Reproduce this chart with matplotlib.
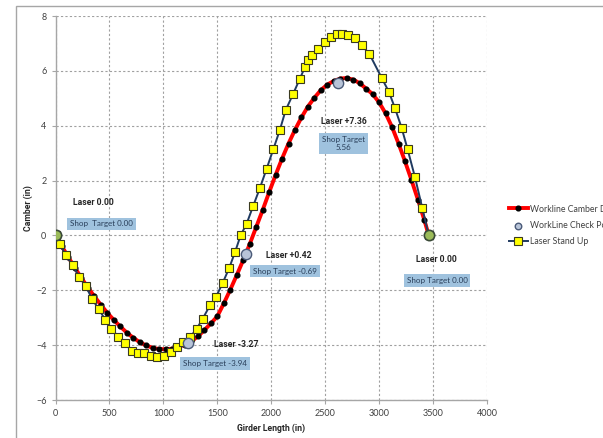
import matplotlib
matplotlib.use("Agg")
import matplotlib.pyplot as plt
from matplotlib.patches import Rectangle

plt.rcParams['font.family'] = ['Lato', 'DejaVu Sans']
BOLD = ['Roboto', 'DejaVu Sans']

# Workline camber data (girder length in, camber in)
work_x = [0, 60, 120, 180, 240, 300, 360, 420, 480, 540, 600, 660, 720, 780,
          840, 900, 960, 1020, 1080, 1140, 1200, 1260, 1320, 1380, 1440, 1500,
          1560, 1620, 1680, 1740, 1800, 1860, 1920, 1980, 2040, 2100, 2160,
          2220, 2280, 2340, 2400, 2460, 2520, 2580, 2640, 2700, 2760, 2820,
          2880, 2940, 3000, 3060, 3120, 3180, 3240, 3300, 3360, 3420, 3460]
work_y = [0.00, -0.40, -0.80, -1.18, -1.55, -1.90, -2.22, -2.53, -2.82, -3.08,
          -3.32, -3.54, -3.73, -3.89, -4.01, -4.10, -4.14, -4.15, -4.13, -4.07,
          -3.98, -3.86, -3.68, -3.45, -3.21, -2.95, -2.48, -1.98, -1.45, -0.90,
          -0.32, 0.30, 0.92, 1.57, 2.20, 2.80, 3.35, 3.85, 4.30, 4.70, 5.02,
          5.30, 5.50, 5.63, 5.72, 5.74, 5.68, 5.55, 5.35, 5.15, 4.85, 4.45,
          3.95, 3.35, 2.70, 2.02, 1.30, 0.55, 0.00]

# Workline check points
check_x = [0, 1225, 1762, 2615, 3460]
check_y = [0.00, -3.94, -0.69, 5.56, 0.00]

# Laser stand-up survey
laser_x = [0, 42, 97, 159, 221, 283, 338, 400, 462, 518, 582, 644, 706, 762,
           823, 882, 943, 1006, 1067, 1123, 1185, 1247, 1308, 1364, 1432, 1487,
           1549, 1611, 1664, 1716, 1772, 1834, 1895, 1957, 2019, 2081, 2133,
           2204, 2266, 2313, 2343, 2374, 2436, 2498, 2550, 2606, 2658, 2714,
           2776, 2838, 2908, 3023, 3091, 3146, 3208, 3264, 3332, 3400, 3460]
laser_y = [0.00, -0.33, -0.73, -1.09, -1.52, -1.86, -2.31, -2.68, -3.08, -3.41,
           -3.69, -3.93, -4.20, -4.29, -4.29, -4.38, -4.42, -4.38, -4.26, -4.08,
           -3.90, -3.71, -3.41, -3.04, -2.55, -2.25, -1.74, -1.18, -0.61, 0.00,
           0.43, 1.09, 1.73, 2.43, 3.14, 3.86, 4.56, 5.17, 5.72, 6.14, 6.39,
           6.57, 6.81, 7.05, 7.24, 7.34, 7.34, 7.30, 7.18, 6.93, 6.63, 5.75,
           5.23, 4.65, 3.93, 3.14, 2.13, 1.00, 0.00]

# Callouts: laser text, shop target text, laser label pos, target box pos
callouts = [
    ("Laser 0.00", "Shop  Target 0.00", (160, 1.20), (135, 0.42)),
    ("Laser +0.42", "Shop Target -0.69", (1955, -0.72), (1830, -1.30)),
    ("Laser -3.27", "Shop Target -3.94", (1465, -3.97), (1180, -4.66)),
    ("Laser +7.36", "Shop Target\n5.56", (2460, 4.14), (2470, 3.35)),
    ("Laser 0.00", "Shop Target 0.00", (3340, -0.87), (3255, -1.64)),
]

fig = plt.figure(figsize=(6.03, 4.38), dpi=100)
W, H = 603, 438

# chart area border
fig.patches.append(Rectangle((16 / W, -0.1), 1.2, 1 - 6 / H + 0.1,
                             transform=fig.transFigure, fill=False,
                             edgecolor='#a6a6a6', linewidth=1.0))

ax = fig.add_axes([55.5 / W, 1 - 400 / H, (487 - 55.5) / W, (400 - 16) / H])
ax.set_xlim(0, 4000)
ax.set_ylim(-6, 8)
ax.set_xticks(range(0, 4001, 500))
ax.set_yticks(range(-6, 9, 2))
ax.grid(True, color='#a0a0a0', linestyle=(0, (2, 2)), linewidth=0.8)
for s in ('top', 'right'):
    ax.spines[s].set_visible(False)
for s in ('left', 'bottom'):
    ax.spines[s].set_color('#a6a6a6')
    ax.spines[s].set_linewidth(1.0)
ax.tick_params(axis='both', labelsize=6.5, colors='#404040', length=3,
               width=0.8, direction='out')
ax.tick_params(axis='both', color='#a6a6a6')
ax.set_xlabel("Girder Length (in)", fontsize=6.2, fontweight='bold',
              family=BOLD, color='#262626')
ax.set_ylabel("Camber (in)", fontsize=6.2, fontweight='bold',
              family=BOLD, color='#262626')
ax.xaxis.set_label_coords(0.5, -0.062)
ax.yaxis.set_label_coords(-0.052, 0.5)

ax.plot(work_x, work_y, color='#ff0000', linewidth=2.8, marker='o',
        markersize=3.4, markerfacecolor='black', markeredgecolor='black',
        label='Workline Camber Data', zorder=3)
ax.plot(laser_x, laser_y, color='#1f3a60', linewidth=1.4, marker='s',
        markersize=5.5, markerfacecolor='#ffff00', markeredgecolor='#3a3a20',
        markeredgewidth=0.8, label='Laser Stand Up', zorder=4)
ax.scatter(check_x[1:-1], check_y[1:-1], s=55, facecolor='#b8c4d8',
           edgecolor='#4a5a78', linewidth=1.0, zorder=6,
           label='WorkLine Check Points')
ax.scatter([check_x[0], check_x[-1]], [check_y[0], check_y[-1]], s=55,
           facecolor='#9bbb59', edgecolor='#3a4a38', linewidth=1.2, zorder=6)

for laser_txt, shop_txt, lpos, spos in callouts:
    ax.text(lpos[0], lpos[1], laser_txt, fontsize=6.2, fontweight='bold',
            family=BOLD, color='#262626', ha='left', va='center', zorder=7)
    ax.text(spos[0], spos[1], shop_txt, fontsize=5.8, color='#2a3f5a',
            ha='left', va='center', multialignment='center', zorder=7,
            bbox=dict(boxstyle='square,pad=0.35', facecolor='#9fc2de',
                      edgecolor='none'))

handles, labels = ax.get_legend_handles_labels()
order = [labels.index('Workline Camber Data'),
         labels.index('WorkLine Check Points'),
         labels.index('Laser Stand Up')]
leg = fig.legend([handles[i] for i in order], [labels[i] for i in order],
                 loc='upper left', bbox_to_anchor=(505 / W, 1 - 201 / H),
                 frameon=False, fontsize=6.3, handlelength=2.2,
                 handletextpad=0.2, labelspacing=0.85, borderaxespad=0)
leg.legend_handles[1].set_sizes([22])
for t in leg.get_texts():
    t.set_color('#404040')

fig.savefig("out.png", dpi=100)
